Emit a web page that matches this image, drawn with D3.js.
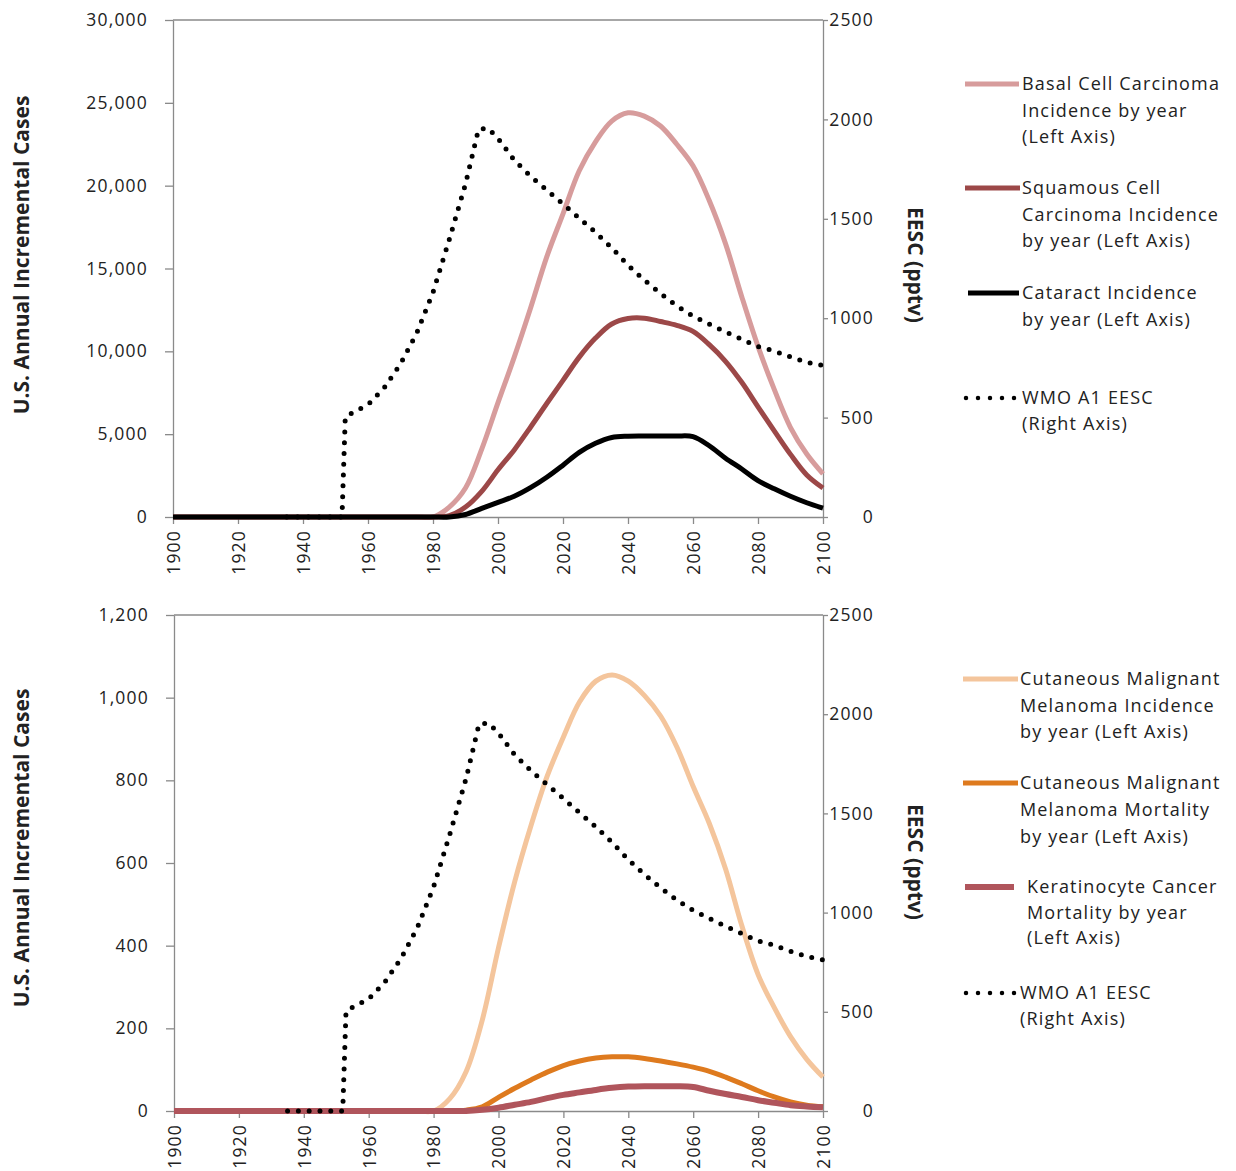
<!DOCTYPE html>
<html>
<head>
<meta charset="utf-8">
<script src="https://cdn.jsdelivr.net/npm/d3@7"></script>
<style>
  body { margin: 0; background: #fff; }
  svg text { font-family: "Open Sans", "DejaVu Sans", sans-serif; fill: #222; }
</style>
</head>
<body>
<svg id="chart" width="1236" height="1171"></svg>
<script>
// Model years (every 5 years, 1900–2100)
const years = [1900, 1905, 1910, 1915, 1920, 1925, 1930, 1935, 1940, 1945,
               1950, 1955, 1960, 1965, 1970, 1975, 1980, 1985, 1990, 1995,
               2000, 2005, 2010, 2015, 2020, 2025, 2030, 2035, 2040, 2045,
               2050, 2055, 2060, 2065, 2070, 2075, 2080, 2085, 2090, 2095, 2100];

// Upper panel: incremental cases per year
const basalCell = [0, 0, 0, 0, 0, 0, 0, 0, 0, 0, 0, 0, 0, 0, 0, 0,
                   0, 600, 1750, 4100, 6900, 9650, 12600, 15700, 18300, 20900,
                   22650, 23900, 24400, 24200, 23600, 22500, 21200, 19100, 16500,
                   13300, 10300, 7700, 5400, 3800, 2600];
const squamousCell = [0, 0, 0, 0, 0, 0, 0, 0, 0, 0, 0, 0, 0, 0, 0, 0,
                      0, 80, 600, 1550, 2850, 4050, 5420, 6850, 8250, 9650,
                      10800, 11650, 11980, 12000, 11800, 11570, 11200, 10400, 9400,
                      8130, 6650, 5200, 3780, 2540, 1750];
const cataract = [0, 0, 0, 0, 0, 0, 0, 0, 0, 0, 0, 0, 0, 0, 0, 0,
                  0, 0, 150, 520, 880, 1250, 1770, 2400, 3130, 3900,
                  4450, 4800, 4880, 4890, 4890, 4890, 4850, 4300, 3550,
                  2900, 2200, 1700, 1250, 860, 540];

// Lower panel: incremental cases / deaths per year
const melanomaIncidence = [0, 0, 0, 0, 0, 0, 0, 0, 0, 0, 0, 0, 0, 0, 0, 0,
                           0, 30, 95, 220, 395, 555, 690, 810, 905, 990,
                           1040, 1055, 1040, 1005, 955, 880, 785, 695, 585,
                           448, 330, 250, 180, 125, 82];
const melanomaMortality = [0, 0, 0, 0, 0, 0, 0, 0, 0, 0, 0, 0, 0, 0, 0, 0,
                           0, 0, 2, 10, 33, 55, 75, 94, 110, 121,
                           128, 131, 131, 127, 121, 114, 106, 96, 82,
                           66, 49, 34, 22, 14, 10];
const keratinocyteMortality = [0, 0, 0, 0, 0, 0, 0, 0, 0, 0, 0, 0, 0, 0, 0, 0,
                               0, 0, 0, 3, 8, 15, 22, 31, 39, 45,
                               51, 56, 59, 60, 60, 60, 58, 49, 41,
                               34, 26, 20, 14, 11, 9];

// WMO A1 scenario equivalent effective stratospheric chlorine (pptv)
const eescYears = [1935, 1951, 1952, 1953, 1955, 1960, 1965, 1970, 1975, 1980,
                   1985, 1990, 1994, 1997, 2000, 2005, 2010, 2015, 2020, 2025,
                   2030, 2035, 2040, 2045, 2050, 2055, 2060, 2065, 2070, 2075,
                   2080, 2085, 2090, 2095, 2100];
const eescValues = [0, 0, 0, 500, 523, 565, 650, 770, 925, 1130,
                    1395, 1675, 1950, 1955, 1905, 1795, 1715, 1645, 1575, 1503,
                    1432, 1354, 1267, 1192, 1125, 1062, 1011, 970, 931, 894,
                    857, 835, 805, 778, 762];

// Tick values
const yearTicks = [1900, 1920, 1940, 1960, 1980, 2000, 2020, 2040, 2060, 2080, 2100];
const upperCaseTicks = [0, 5000, 10000, 15000, 20000, 25000, 30000];
const lowerCaseTicks = [0, 200, 400, 600, 800, 1000, 1200];
const eescTicks = [0, 500, 1000, 1500, 2000, 2500];

// Legend labels
const upperLegend = [
  ["Basal Cell Carcinoma", "Incidence by year", "(Left Axis)"],
  ["Squamous Cell", "Carcinoma Incidence", "by year (Left Axis)"],
  ["Cataract Incidence", "by year (Left Axis)"],
  ["WMO A1 EESC", "(Right Axis)"]
];
const lowerLegend = [
  ["Cutaneous Malignant", "Melanoma Incidence", "by year (Left Axis)"],
  ["Cutaneous Malignant", "Melanoma Mortality", "by year (Left Axis)"],
  ["Keratinocyte Cancer", "Mortality by year", "(Left Axis)"],
  ["WMO A1 EESC", "(Right Axis)"]
];

const svg = d3.select("#chart");
const AXIS_GREY = "#8a8a8a";

function drawPanel(p) {
  const g = svg.append("g");
  const x = d3.scaleLinear().domain([1900, 2100]).range([p.left, p.right]);
  const yL = d3.scaleLinear().domain([0, p.leftMax]).range([p.bottom, p.top]);
  const yR = d3.scaleLinear().domain([0, 2500]).range([p.bottom, p.top]);

  // frame top edge
  g.append("line")
    .attr("x1", p.left).attr("x2", p.right)
    .attr("y1", p.top).attr("y2", p.top)
    .attr("stroke", AXIS_GREY).attr("stroke-width", 1.3);

  // left axis
  const ax = g.append("g")
    .attr("transform", `translate(${p.left},0)`)
    .call(d3.axisLeft(yL).tickValues(p.leftTicks).tickSize(8).tickSizeOuter(0)
      .tickPadding(17).tickFormat(d3.format(",")));
  // right axis
  const ar = g.append("g")
    .attr("transform", `translate(${p.right},0)`)
    .call(d3.axisRight(yR).tickValues(eescTicks).tickSize(5).tickSizeOuter(0)
      .tickFormat(d3.format("d")));
  ar.selectAll("text").attr("text-anchor", "end").attr("x", 51);
  // bottom axis
  const ab = g.append("g")
    .attr("transform", `translate(0,${p.bottom})`)
    .call(d3.axisBottom(x).tickValues(yearTicks).tickSize(7).tickSizeOuter(0)
      .tickFormat(d3.format("d")));
  ab.selectAll("text")
    .attr("transform", "rotate(-90)")
    .attr("x", -13).attr("y", 0).attr("dy", "0.36em")
    .attr("text-anchor", "end");

  [ax, ar, ab].forEach(a => {
    a.selectAll("path.domain, line").attr("stroke", AXIS_GREY).attr("stroke-width", 1.3);
    a.selectAll("text")
      .style("font-size", "17.5px")
      .style("letter-spacing", "1.2px")
      .attr("fill", "#222");
  });

  // axis titles
  g.append("text")
    .attr("transform", `translate(${p.leftTitleX},${p.leftTitleY}) rotate(-90)`)
    .attr("text-anchor", "middle").attr("dy", "0.35em")
    .style("font-size", "21px").style("font-weight", "700")
    .text("U.S. Annual Incremental Cases");
  g.append("text")
    .attr("transform", `translate(${p.rightTitleX},${p.rightTitleY}) rotate(90)`)
    .attr("text-anchor", "middle").attr("dy", "0.35em")
    .style("font-size", "21px").style("font-weight", "700")
    .text("EESC (pptv)");

  // case series, smoothed
  const line = d3.line()
    .x((d, i) => x(years[i]))
    .y(d => yL(d))
    .curve(d3.curveCatmullRom.alpha(0.5));
  p.series.forEach(s => {
    g.append("path")
      .attr("d", line(s.values))
      .attr("fill", "none")
      .attr("stroke", s.color)
      .attr("stroke-width", s.width)
      .attr("stroke-linejoin", "round");
  });

  // EESC dotted series on right axis
  const eescLine = d3.line()
    .x((d, i) => x(eescYears[i]))
    .y(d => yR(d));
  g.append("path")
    .attr("d", eescLine(eescValues))
    .attr("fill", "none")
    .attr("stroke", "#000")
    .attr("stroke-width", 5)
    .attr("stroke-linecap", "round")
    .attr("stroke-dasharray", "0 10.8");

  // legend
  p.legend.forEach(item => {
    if (item.dotted) {
      g.append("line")
        .attr("x1", item.x1).attr("x2", item.x2)
        .attr("y1", item.y).attr("y2", item.y)
        .attr("stroke", "#000").attr("stroke-width", 4.5)
        .attr("stroke-linecap", "round")
        .attr("stroke-dasharray", "0 12");
    } else {
      g.append("line")
        .attr("x1", item.x1).attr("x2", item.x2)
        .attr("y1", item.y).attr("y2", item.y)
        .attr("stroke", item.color).attr("stroke-width", item.width);
    }
    const t = g.append("text")
      .style("font-size", "18px")
      .style("letter-spacing", "1.15px");
    item.lines.forEach((s, k) => {
      t.append("tspan")
        .attr("x", item.textX)
        .attr("y", item.y + 6 + k * item.lh)
        .text(s);
    });
  });
}

drawPanel({
  left: 173, right: 823, top: 20, bottom: 517,
  leftMax: 30000, leftTicks: upperCaseTicks,
  leftTitleX: 22, leftTitleY: 255, rightTitleX: 915, rightTitleY: 265,
  series: [
    { values: basalCell, color: "#d79c9c", width: 5 },
    { values: squamousCell, color: "#9c4848", width: 5 },
    { values: cataract, color: "#000000", width: 5 }
  ],
  legend: [
    { lines: upperLegend[0], y: 84, x1: 965, x2: 1019, textX: 1022, lh: 26.5, color: "#d79c9c", width: 5 },
    { lines: upperLegend[1], y: 188, x1: 965, x2: 1020, textX: 1022, lh: 26.5, color: "#9c4848", width: 5 },
    { lines: upperLegend[2], y: 293, x1: 968, x2: 1019, textX: 1022, lh: 27, color: "#000000", width: 5 },
    { lines: upperLegend[3], y: 398, x1: 966, x2: 1015, textX: 1022, lh: 26, dotted: true }
  ]
});

drawPanel({
  left: 174, right: 823, top: 615, bottom: 1111,
  leftMax: 1200, leftTicks: lowerCaseTicks,
  leftTitleX: 22, leftTitleY: 848, rightTitleX: 915, rightTitleY: 862,
  series: [
    { values: melanomaIncidence, color: "#f4c59c", width: 5 },
    { values: melanomaMortality, color: "#de7a1e", width: 5 },
    { values: keratinocyteMortality, color: "#b0555c", width: 6 }
  ],
  legend: [
    { lines: lowerLegend[0], y: 679, x1: 963, x2: 1018, textX: 1020, lh: 26.5, color: "#f4c59c", width: 5 },
    { lines: lowerLegend[1], y: 783, x1: 963, x2: 1018, textX: 1020, lh: 27, color: "#de7a1e", width: 5 },
    { lines: lowerLegend[2], y: 887, x1: 965, x2: 1014, textX: 1027, lh: 25.5, color: "#b0555c", width: 6 },
    { lines: lowerLegend[3], y: 993, x1: 966, x2: 1015, textX: 1020, lh: 26, dotted: true }
  ]
});
</script>
</body>
</html>
